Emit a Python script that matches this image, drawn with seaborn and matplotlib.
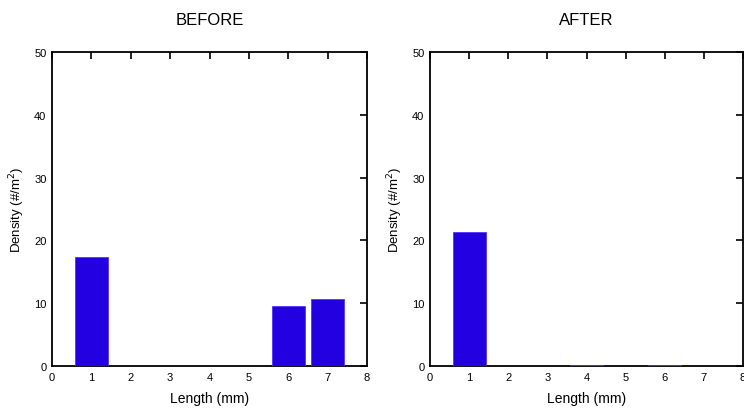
import matplotlib
matplotlib.use("Agg")
import matplotlib.pyplot as plt
import seaborn as sns
import pandas as pd

lengths = [1, 2, 3, 4, 5, 6, 7]
before = [17.3, 0, 0, 0, 0, 9.5, 10.7]
after = [21.3, 0, 0, 0.15, 0, 0.15, 0]
titles = ["BEFORE", "AFTER"]
xticks = [0, 1, 2, 3, 4, 5, 6, 7, 8]
yticks = [0, 10, 20, 30, 40, 50]

sns.set_style("white")
plt.rcParams['font.family'] = ['Liberation Sans', 'DejaVu Sans']
plt.rcParams['text.color'] = 'black'
plt.rcParams['axes.labelcolor'] = 'black'

fig = plt.figure(figsize=(7.44, 4.14), dpi=100)
positions = [[0.0699, 0.1135, 0.4234, 0.7585], [0.578, 0.1135, 0.4207, 0.7585]]
bar_color = "#2200E0"

for pos, vals, title in zip(positions, [before, after], titles):
    ax = fig.add_axes(pos)
    df = pd.DataFrame({"Length": lengths, "Density": vals})
    sns.barplot(data=df, x="Length", y="Density", native_scale=True, width=0.85,
                color=bar_color, saturation=1, edgecolor="#5533ff", linewidth=0.6, ax=ax)
    for p in ax.patches:
        if p.get_height() > 0:
            p.set_zorder(3)
        else:
            p.set_visible(False)
    ax.set_xlim(0, 8)
    ax.set_ylim(0, 50)
    ax.set_xticks(xticks)
    ax.set_yticks(yticks)
    ax.tick_params(direction="in", length=5, width=1.2, top=True, right=True,
                   labelsize=8, pad=4, colors="black")
    for s in ax.spines.values():
        s.set_visible(True)
        s.set_color("black")
        s.set_linewidth(1.3)
        s.set_zorder(2.5)
    ax.set_xlabel("Length (mm)", fontsize=10, labelpad=7, color="black")
    ax.set_ylabel("Density (#/m$^2$)", fontsize=9.5, labelpad=5, color="black")
    ax.set_title(title, fontsize=12, pad=20, color="black")

fig.savefig("out.png", dpi=100)
